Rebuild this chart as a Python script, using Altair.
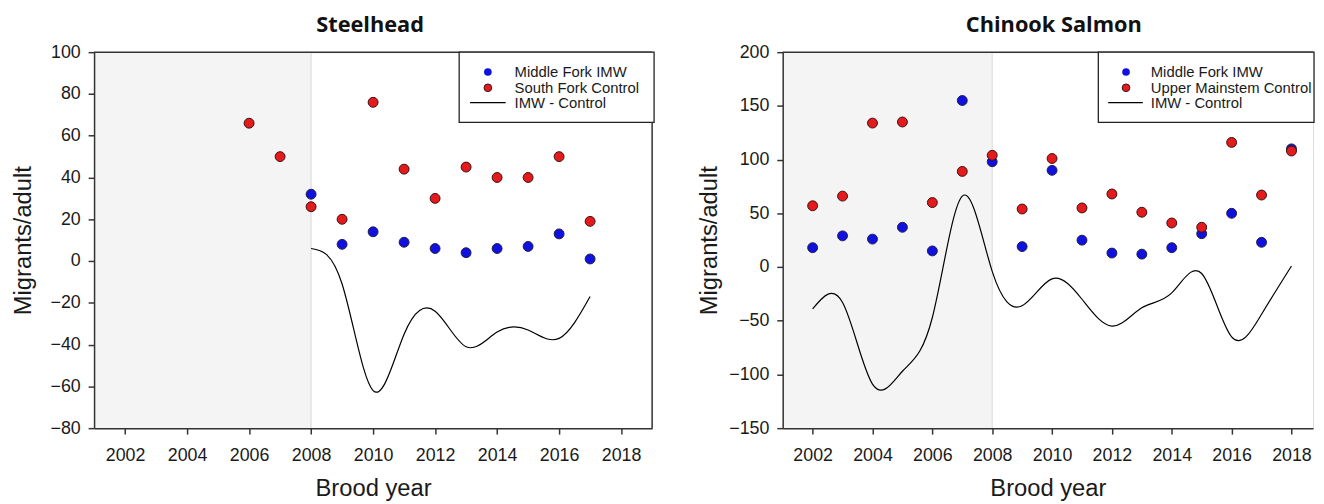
import altair as alt
import pandas as pd

# ---------------- data ----------------
x_ticks = [2002, 2004, 2006, 2008, 2010, 2012, 2014, 2016, 2018]
shade_start = [2001]
shade_end = [2008]

# Steelhead
sh_ctl_years = [2006, 2007, 2008, 2009, 2010, 2011, 2012, 2013, 2014, 2015, 2016, 2017]
sh_ctl_vals = [66, 50, 26, 20, 76, 44, 30, 45, 40, 40, 50, 19]
sh_imw_years = [2008, 2009, 2010, 2011, 2012, 2013, 2014, 2015, 2016, 2017]
sh_imw_vals = [32, 8, 14, 9, 6, 4, 6, 7, 13, 1]
sh_diff_years = [2008, 2009, 2010, 2011, 2012, 2013, 2014, 2015, 2016, 2017]
sh_diff_vals = [6, -11, -62, -35, -24, -41, -34, -33, -37, -17]
sh_y_ticks = [-80, -60, -40, -20, 0, 20, 40, 60, 80, 100]
sh_labels = ["Middle Fork IMW", "South Fork Control", "IMW - Control"]

# Chinook salmon
ck_years = [2002, 2003, 2004, 2005, 2006, 2007, 2008, 2009, 2010,
            2011, 2012, 2013, 2014, 2015, 2016, 2017, 2018]
ck_imw_vals = [18, 29, 26, 37, 15, 155, 98, 19, 90, 25, 13, 12, 18, 31, 50, 23, 110]
ck_ctl_vals = [57, 66, 134, 135, 60, 89, 104, 54, 101, 55, 68, 51, 41, 37, 116, 67, 108]
ck_diff_vals = [-39, -33, -109, -97, -47, 66, -4, -36, -11, -30, -55, -38, -24, -6, -65, -44, 1]
ck_y_ticks = [-150, -100, -50, 0, 50, 100, 150, 200]
ck_labels = ["Middle Fork IMW", "Upper Mainstem Control", "IMW - Control"]

BLUE = "#1010e0"
RED = "#e41a1c"
TXT = "#1a1a1a"
AX = "#333333"
LAB_FONT = "Liberation Sans"
H = 380


def panel(title, title_dx, w, xdom, ydom, yticks, imw_x, imw_y, ctl_x, ctl_y,
          diff_x, diff_y, labels, leg_x0, leg_x1, leg_mark_x, leg_line_x0, leg_line_x1,
          leg_text_x, ytitle_x, right_frame):
    xs = alt.Scale(domain=xdom, nice=False, zero=False)
    ys = alt.Scale(domain=ydom, nice=False, zero=False)
    x_axis = alt.Axis(values=x_ticks, format="d", title="Brood year", grid=False,
                      tickSize=6, labelPadding=13, labelFontSize=18, labelFont=LAB_FONT,
                      labelColor=TXT, labelFlush=False, domainColor=AX, domainWidth=1.5,
                      tickColor=AX, tickWidth=1.5, titleFont=LAB_FONT, titleFontSize=24,
                      titleFontWeight="normal", titleColor=TXT, titleBaseline="alphabetic",
                      titleY=68, titleX=w / 2, zindex=1)
    y_axis = alt.Axis(values=yticks, title="Migrants/adult", grid=False,
                      tickSize=6, labelPadding=8, labelFontSize=18, labelFont=LAB_FONT,
                      labelColor=TXT, labelFlush=False, domainColor=AX, domainWidth=1.5,
                      tickColor=AX, tickWidth=1.5, titleFont=LAB_FONT, titleFontSize=24,
                      titleFontWeight="normal", titleColor=TXT, titleBaseline="alphabetic",
                      titleAngle=270, titleX=ytitle_x, titleY=H / 2, titleAlign="center",
                      zindex=1)

    def X(f):
        return alt.X(f, scale=xs, axis=x_axis)

    def Y(f):
        return alt.Y(f, scale=ys, axis=y_axis)

    shade_df = pd.DataFrame({"start": shade_start, "end": shade_end})
    shade = alt.Chart(shade_df).mark_rect(color="#f4f4f4").encode(
        x=X("start:Q"), x2="end:Q", y=alt.value(0), y2=alt.value(H))
    divider = alt.Chart(shade_df).mark_rule(color="#d9d9d9", strokeWidth=1).encode(
        x=X("end:Q"), y=alt.value(0), y2=alt.value(H))

    diff_df = pd.DataFrame({"year": diff_x, "value": diff_y})
    line = alt.Chart(diff_df).mark_line(color="black", strokeWidth=1.2,
                                        interpolate="natural").encode(
        x=X("year:Q"), y=Y("value:Q"))

    imw_df = pd.DataFrame({"year": imw_x, "value": imw_y})
    ctl_df = pd.DataFrame({"year": ctl_x, "value": ctl_y})
    imw_pts = alt.Chart(imw_df).mark_circle(size=100, color=BLUE, opacity=1,
                                            stroke="#202040", strokeWidth=1).encode(
        x=X("year:Q"), y=Y("value:Q"))
    ctl_pts = alt.Chart(ctl_df).mark_circle(size=100, color=RED, opacity=1,
                                            stroke="#3a1010", strokeWidth=1).encode(
        x=X("year:Q"), y=Y("value:Q"))

    one = pd.DataFrame({"k": [0]})
    layers = [shade, divider, line, imw_pts, ctl_pts]

    # frame (top and, if visible, right)
    layers.append(alt.Chart(one).mark_rule(color=AX, strokeWidth=1.5).encode(
        x=alt.value(0), x2=alt.value(w), y=alt.value(0)))
    if right_frame:
        layers.append(alt.Chart(one).mark_rule(color=AX, strokeWidth=1.5).encode(
            x=alt.value(w), y=alt.value(0), y2=alt.value(H)))

    # legend
    layers.append(alt.Chart(one).mark_rect(fill="white", stroke="#222222",
                                           strokeWidth=1.3).encode(
        x=alt.value(leg_x0), x2=alt.value(leg_x1), y=alt.value(0), y2=alt.value(71)))
    rows = [20, 36, 51]
    layers.append(alt.Chart(one).mark_circle(size=60, color=BLUE, opacity=1).encode(
        x=alt.value(leg_mark_x), y=alt.value(rows[0])))
    layers.append(alt.Chart(one).mark_circle(size=60, color=RED, opacity=1,
                                             stroke="#3a1010", strokeWidth=1).encode(
        x=alt.value(leg_mark_x), y=alt.value(rows[1])))
    layers.append(alt.Chart(one).mark_rule(color="black", strokeWidth=1.2).encode(
        x=alt.value(leg_line_x0), x2=alt.value(leg_line_x1), y=alt.value(rows[2])))
    for lab, ry in zip(labels, rows):
        layers.append(alt.Chart(one).mark_text(align="left", baseline="middle",
                                               font=LAB_FONT, fontSize=15,
                                               color=TXT).encode(
            x=alt.value(leg_text_x), y=alt.value(ry), text=alt.value(lab)))

    # panel title
    layers.append(alt.Chart(one).mark_text(align="center", baseline="alphabetic",
                                           font="Open Sans", fontSize=22,
                                           fontWeight="bold", color="#111111").encode(
        x=alt.value(w / 2 + title_dx), y=alt.value(-20), text=alt.value(title)))

    return alt.layer(*layers).properties(width=w, height=H)


left = panel("Steelhead", -3, 564, [2001, 2019], [-80, 100], sh_y_ticks,
             sh_imw_years, sh_imw_vals, sh_ctl_years, sh_ctl_vals,
             sh_diff_years, sh_diff_vals, sh_labels,
             leg_x0=369, leg_x1=566, leg_mark_x=398, leg_line_x0=380, leg_line_x1=416,
             leg_text_x=425, ytitle_x=-64, right_frame=True)

right = panel("Chinook Salmon", 6, 536, [2001, 2018.72], [-150, 200], ck_y_ticks,
              ck_years, ck_imw_vals, ck_years, ck_ctl_vals,
              ck_years, ck_diff_vals, ck_labels,
              leg_x0=319, leg_x1=537, leg_mark_x=347, leg_line_x0=329, leg_line_x1=364,
              leg_text_x=372, ytitle_x=-67, right_frame=False)

chart = alt.hconcat(left, right, spacing=132, bounds="flush").properties(
    padding={"left": 3, "top": 3, "right": 0, "bottom": 0}
).configure_view(stroke=None).configure(background="white")

chart.save("out.html", embed_options={"renderer": "svg", "actions": False})
